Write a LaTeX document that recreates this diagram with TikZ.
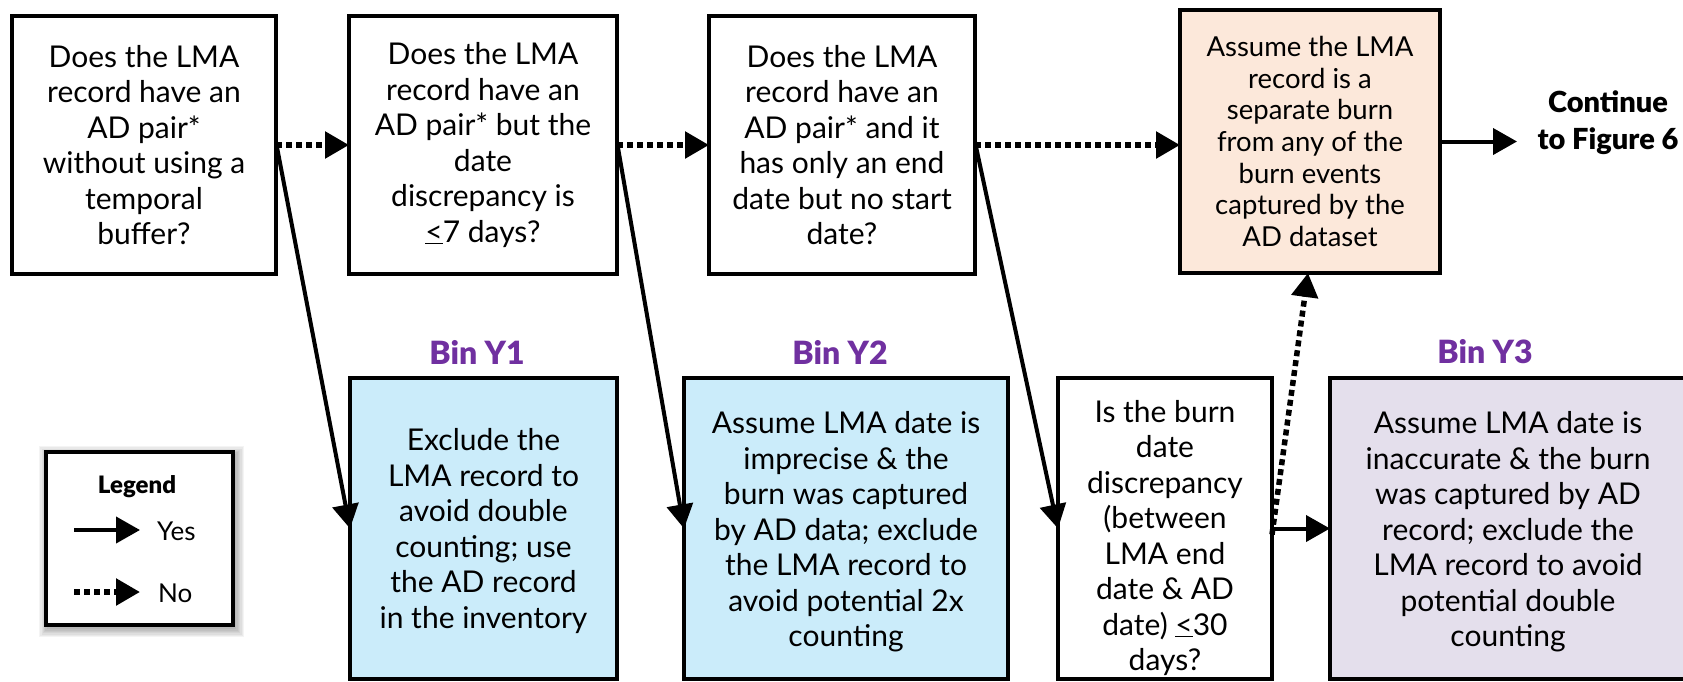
\documentclass[tikz,border=0pt]{standalone}
\usepackage{fontspec}
\setmainfont{Lato}
\newfontfamily\heavyfont{Lato Black}
\usetikzlibrary{arrows.meta}
\definecolor{binpurple}{RGB}{112,48,160}
\definecolor{yblue}{RGB}{203,236,250}
\definecolor{peach}{RGB}{252,232,218}
\definecolor{lav}{RGB}{228,223,236}
\begin{document}
\begin{tikzpicture}[x=1pt,y=-1pt,
  box/.style={draw=black, line width=4.5pt, rectangle, inner sep=0pt, outer sep=0pt, align=center,
    font=\fontsize{30}{35.5}\selectfont},
  boxtext/.style={align=center, inner sep=0pt, font=\fontsize{30}{35.5}\selectfont},
  yesarrow/.style={line width=4pt, -{Triangle[length=24pt,width=26pt]}},
  noarrow/.style={line width=5.5pt, dash pattern=on 6pt off 4pt, -{Triangle[length=24pt,width=26pt]}},
  binlabel/.style={font=\fontsize{32}{36}\selectfont\heavyfont, text=binpurple, inner sep=0pt},
]
\useasboundingbox (0,0) rectangle (1683,681);
\fill[white] (0,0) rectangle (1683,681);
\clip (0,0) rectangle (1683,681);

% top row
\node[box, minimum width=264pt, minimum height=258pt] (b1) at (144,145)
  {Does the LMA\\record have an\\AD pair*\\without using a\\temporal\\buffer?};
\node[box, minimum width=268pt, minimum height=258pt] (b2) at (483,145)
  {Does the LMA\\record have an\\AD pair* but the\\date\\discrepancy is\\\underline{<}7 days?};
\node[box, minimum width=266pt, minimum height=258pt] (b3) at (842,145)
  {Does the LMA\\record have an\\AD pair* and it\\has only an end\\date but no start\\date?};
\node[box, fill=peach, minimum width=260pt, minimum height=263pt,
  font=\fontsize{27.5}{31.7}\selectfont] (b4) at (1310,141.5)
  {Assume the LMA\\record is a\\separate burn\\from any of the\\burn events\\captured by the\\AD dataset};
\node[align=center, font=\fontsize{29}{37}\selectfont\heavyfont, inner sep=0pt] (cont) at (1608,123)
  {Continue\\to Figure 6};
\coordinate (contin) at (1517,141.5);

% bottom row
\node[binlabel] (l1) at (477,352) {Bin Y1};
\node[binlabel] (l2) at (840,352) {Bin Y2};
\node[binlabel] (l3) at (1485,352) {Bin Y3};

\node[box, fill=yblue, minimum width=267pt, minimum height=301pt] (y1) at (483.5,528.5) {};
\node[boxtext] (y1t) at (483.5,531)
  {Exclude the\\LMA record to\\avoid double\\counting; use\\the AD record\\in the inventory};
\node[box, fill=yblue, minimum width=324pt, minimum height=301pt] (y2) at (846,528.5) {};
\node[boxtext] (y2t) at (846,532)
  {Assume LMA date is\\imprecise \& the\\burn was captured\\by AD data; exclude\\the LMA record to\\avoid potential 2x\\counting};
\node[box, minimum width=214pt, minimum height=301pt] (burn) at (1165,528.5) {};
\node[boxtext] (burnt) at (1165,538)
  {Is the burn\\date\\discrepancy\\(between\\LMA end\\date \& AD\\date) \underline{<}30\\days?};
\node[box, fill=lav, minimum width=356pt, minimum height=301pt] (y3) at (1508,528.5) {};
\node[boxtext] (y3t) at (1508,532)
  {Assume LMA date is\\inaccurate \& the burn\\was captured by AD\\record; exclude the\\LMA record to avoid\\potential double\\counting};

% connectors
\draw[noarrow] (b1.east) -- (b2.west);
\draw[noarrow] (b2.east) -- (b3.west);
\draw[noarrow] (b3.east) -- (b3.east -| b4.west);
\draw[yesarrow] (b4.east) -- (contin);
\draw[yesarrow] ([yshift=3pt]b1.east) -- (y1.west);
\draw[yesarrow] ([yshift=3pt]b2.east) -- (y2.west);
\draw[yesarrow] ([yshift=3pt]b3.east) -- (burn.west);
\draw[yesarrow] (burn.east) -- (y3.west);
\draw[noarrow] ([yshift=-6pt]burn.east) -- ([xshift=-2pt]b4.south);

% legend
\foreach \i in {1,...,7}
  \fill[black, opacity=0.045] (46-\i*1.3+2,452-\i*1.3+3) rectangle (233+\i*1.3+2,625+\i*1.3+3);
\node[draw=black, fill=white, line width=4.5pt, minimum width=187pt, minimum height=173pt,
  inner sep=0pt, outer sep=0pt] (lg) at (139.5,538.5) {};
\node[font=\fontsize{24}{28}\selectfont\heavyfont, inner sep=0pt] (lgt) at (137,487) {Legend};
\coordinate (ly1) at (74,530);
\coordinate (ly2) at (140,530);
\coordinate (ln1) at (74,592);
\coordinate (ln2) at (140,592);
\draw[yesarrow] (ly1) -- (ly2);
\draw[noarrow] (ln1) -- (ln2);
\node[anchor=west, font=\fontsize{26}{28}\selectfont, inner sep=0pt] (lyes) at (157,531) {Yes};
\node[anchor=west, font=\fontsize{26}{28}\selectfont, inner sep=0pt] (lno) at (158,593) {No};
\end{tikzpicture}
\end{document}
